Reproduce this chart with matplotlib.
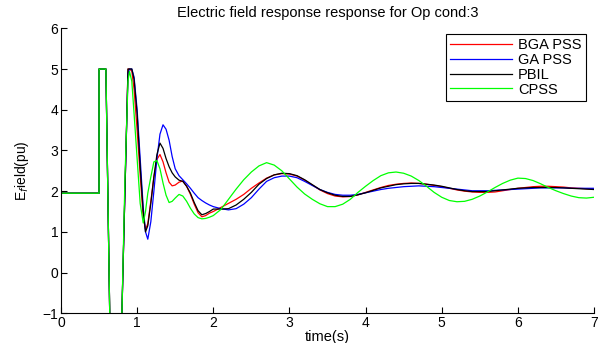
import matplotlib.pyplot as plt

plt.rcParams['font.family'] = ['Liberation Sans', 'DejaVu Sans']

# time axis (s)
t = [0.0, 0.5, 0.5, 0.51, 0.59, 0.64, 0.69, 0.72, 0.80, 0.84,
     0.88, 0.90, 0.93, 0.96, 1.00, 1.04, 1.08, 1.11, 1.14, 1.18,
     1.22, 1.26, 1.30, 1.34, 1.38, 1.42, 1.46, 1.50, 1.55, 1.60,
     1.65, 1.70, 1.75, 1.80, 1.85, 1.90, 1.95,
     2.0, 2.1, 2.2, 2.3, 2.4, 2.5, 2.6, 2.7, 2.8, 2.9,
     3.0, 3.1, 3.2, 3.3, 3.4, 3.5, 3.6, 3.7, 3.8, 3.9,
     4.0, 4.1, 4.2, 4.3, 4.4, 4.5, 4.6, 4.7, 4.8, 4.9,
     5.0, 5.1, 5.2, 5.3, 5.4, 5.5, 5.6, 5.7, 5.8, 5.9,
     6.0, 6.1, 6.2, 6.3, 6.4, 6.5, 6.6, 6.7, 6.8, 6.9, 7.0]

# common start (fault period)
start = [1.95, 1.95, 5.0, 5.0, 5.0, -1.0, -7.0, -7.0, -1.0]

bga = start + [2.0,
    5.0, 5.0, 4.95, 4.5, 3.5, 2.4, 1.35, 1.06, 1.2, 1.75,
    2.35, 2.78, 2.9, 2.72, 2.45, 2.22, 2.13, 2.15, 2.22, 2.25,
    2.12, 1.92, 1.68, 1.47, 1.37, 1.40, 1.46,
    1.50, 1.60, 1.70, 1.80, 1.92, 2.07, 2.20, 2.32, 2.40, 2.43,
    2.42, 2.37, 2.27, 2.15, 2.03, 1.94, 1.88, 1.86, 1.87, 1.91,
    1.97, 2.03, 2.09, 2.14, 2.17, 2.19, 2.20, 2.19, 2.17, 2.14,
    2.11, 2.07, 2.03, 2.00, 1.98, 1.97, 1.97, 1.98, 2.01, 2.04,
    2.07, 2.09, 2.11, 2.12, 2.12, 2.11, 2.10, 2.08, 2.07, 2.06, 2.05]

ga = start + [2.0,
    4.9, 5.0, 5.0, 4.8, 4.0, 2.8, 1.6, 1.0, 0.82, 1.25,
    2.0, 2.8, 3.4, 3.63, 3.52, 3.25, 2.85, 2.55, 2.38, 2.28,
    2.18, 2.07, 1.95, 1.84, 1.77, 1.71, 1.66,
    1.62, 1.57, 1.54, 1.57, 1.68, 1.84, 2.05, 2.24, 2.33, 2.37,
    2.37, 2.33, 2.24, 2.14, 2.04, 1.97, 1.92, 1.90, 1.90, 1.92,
    1.96, 2.00, 2.04, 2.07, 2.09, 2.11, 2.12, 2.13, 2.12, 2.11,
    2.09, 2.07, 2.05, 2.03, 2.01, 2.01, 2.01, 2.02, 2.03, 2.04,
    2.05, 2.06, 2.07, 2.08, 2.08, 2.08, 2.08, 2.07, 2.07, 2.07, 2.07]

pbil = start + [2.0,
    5.0, 5.0, 5.0, 4.75, 3.9, 2.6, 1.5, 1.0, 1.15, 1.7,
    2.35, 2.9, 3.18, 3.05, 2.8, 2.6, 2.45, 2.35, 2.27, 2.24,
    2.12, 1.95, 1.72, 1.52, 1.42, 1.45, 1.50,
    1.56, 1.56, 1.57, 1.66, 1.80, 1.97, 2.17, 2.31, 2.40, 2.44,
    2.43, 2.38, 2.28, 2.16, 2.04, 1.96, 1.90, 1.87, 1.87, 1.91,
    1.96, 2.02, 2.08, 2.12, 2.16, 2.18, 2.19, 2.19, 2.17, 2.15,
    2.12, 2.08, 2.04, 2.01, 1.99, 1.99, 1.99, 2.01, 2.03, 2.05,
    2.07, 2.08, 2.09, 2.09, 2.09, 2.09, 2.08, 2.07, 2.06, 2.05, 2.04]

cpss = start + [2.3,
    4.7, 4.94, 4.7, 3.9, 2.8, 1.7, 1.22, 1.5, 1.95, 2.35,
    2.72, 2.75, 2.55, 2.2, 1.9, 1.72, 1.75, 1.83, 1.92, 1.88,
    1.75, 1.58, 1.44, 1.35, 1.32, 1.33, 1.36,
    1.40, 1.55, 1.80, 2.05, 2.28, 2.47, 2.62, 2.70, 2.64, 2.50,
    2.30, 2.10, 1.93, 1.80, 1.69, 1.62, 1.62, 1.68, 1.80, 1.97,
    2.12, 2.26, 2.38, 2.45, 2.47, 2.44, 2.37, 2.26, 2.12, 1.97,
    1.85, 1.77, 1.74, 1.75, 1.80, 1.88, 1.98, 2.09, 2.19, 2.27,
    2.32, 2.31, 2.26, 2.18, 2.09, 2.01, 1.94, 1.88, 1.84, 1.83, 1.85]

labels = ['BGA PSS', 'GA PSS', 'PBIL', 'CPSS']
colors = ['#ff0000', '#0000ff', '#000000', '#00ff00']

fig = plt.figure(figsize=(5.99, 3.43), dpi=100)
ax = fig.add_axes([0.1018, 0.0866, 0.8899, 0.8309])

for y, lab, c in zip([bga, ga, pbil, cpss], labels, colors):
    ax.plot(t, y, color=c, lw=0.9, label=lab)

ax.set_xlim(0, 7)
ax.set_ylim(-1, 6)
ax.set_xticks(range(0, 8))
ax.set_yticks(range(-1, 7))
ax.spines['top'].set_visible(False)
ax.spines['right'].set_visible(False)
ax.tick_params(direction='in', length=4, labelsize=10, pad=2)

ax.set_title('Electric field response response for Op cond:3', fontsize=10.5, pad=8)
ax.set_xlabel('time(s)', fontsize=10.5, labelpad=0)
ax.set_ylabel('E$_f$ield(pu)', fontsize=10, labelpad=8)

leg = ax.legend(loc='upper right', bbox_to_anchor=(586 / 599, 1 - 34 / 343),
                bbox_transform=fig.transFigure, borderaxespad=0,
                fancybox=False, edgecolor='black', framealpha=1,
                fontsize=10.5, handlelength=4.2, labelspacing=0.05,
                handletextpad=0.45, borderpad=0.3)
leg.get_frame().set_linewidth(0.8)

fig.savefig('out.png', dpi=100)
